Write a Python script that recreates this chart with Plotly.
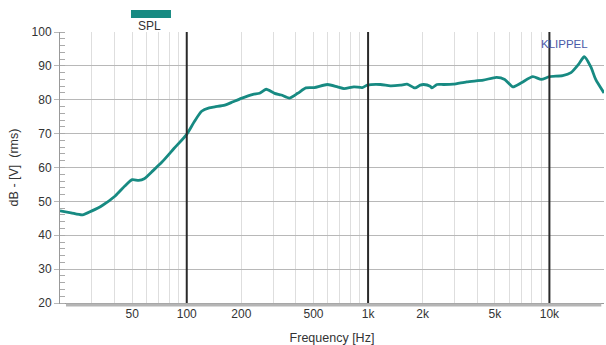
import plotly.graph_objects as go

# ---- data ----
freq_hz = [20, 23, 26.6, 30, 34.2, 40.3, 45.7, 50, 54.3, 58.3, 65, 73, 85, 100,
           110, 120.8, 133, 142.9, 162, 180, 200, 232, 252, 274, 305, 332, 368,
           409, 454, 505, 597, 678, 737, 836, 929, 990, 1170, 1327, 1507, 1640,
           1783, 1820, 1940, 2023, 2200, 2250, 2400, 2600, 2950, 3500, 4320,
           5110, 5670, 6290, 7000, 8100, 9020, 10000, 11830, 13150, 14500,
           15570, 16920, 18000, 20000]
spl_db = [47.2, 46.6, 46.0, 47.2, 48.8, 51.6, 54.6, 56.4, 56.2, 56.7, 59.0,
          61.6, 65.6, 69.8, 73.5, 76.6, 77.6, 77.9, 78.4, 79.4, 80.4, 81.6,
          81.9, 83.1, 81.9, 81.4, 80.5, 81.9, 83.5, 83.6, 84.5, 83.8, 83.3,
          83.8, 83.6, 84.3, 84.5, 84.1, 84.3, 84.6, 83.6, 83.5, 84.3, 84.5,
          84.0, 83.5, 84.5, 84.5, 84.6, 85.3, 85.8, 86.6, 86.0, 83.8, 85.0,
          86.8, 86.0, 86.8, 87.1, 88.0, 90.5, 92.7, 89.7, 86.0, 82.0]

x_tickvals = [50, 100, 200, 500, 1000, 2000, 5000, 10000]
x_ticktext = ["50", "100", "200", "500", "1k", "2k", "5k", "10k"]
decades = [100, 1000, 10000]
series_name = "SPL"

minor_vals = [m * 10 ** e for e in range(1, 5) for m in range(1, 10)
              if 20 <= m * 10 ** e <= 20000]

teal = "#178a82"
font = "Liberation Sans, Arial, sans-serif"

fig = go.Figure()
fig.add_trace(go.Scatter(x=freq_hz, y=spl_db, mode="lines", name=series_name,
                         line=dict(color=teal, width=2.8, shape="spline", smoothing=0.6),
                         showlegend=False))

fig.update_layout(
    width=606, height=345,
    margin=dict(l=60, r=2, t=32, b=42),
    paper_bgcolor="white", plot_bgcolor="white",
    font=dict(family=font, size=12, color="#333"),
)
fig.update_xaxes(
    type="log", range=[1.30103, 4.30103],
    tickmode="array", tickvals=x_tickvals, ticktext=x_ticktext,
    showgrid=False, ticks="", zeroline=False, automargin=False,
    showline=True, linecolor="#999", linewidth=1,
    minor=dict(tickmode="array", tickvals=minor_vals, showgrid=True,
               gridcolor="#dedede", gridwidth=1, ticks=""),
    title=dict(text="Frequency [Hz]", font=dict(size=12.5), standoff=12),
    tickfont=dict(size=12, color="#333"),
)
fig.update_yaxes(
    range=[20, 100], dtick=10, tick0=20, automargin=False,
    showgrid=True, gridcolor="#b8b8b8", gridwidth=1,
    ticks="outside", ticklen=5, tickcolor="#b8b8b8",
    showline=True, linecolor="#999", linewidth=1, zeroline=False,
    minor=dict(dtick=2, ticks="inside", ticklen=5, tickcolor="#aaa", showgrid=False),
    title=dict(text="dB - [V]  (rms)", font=dict(size=12.5), standoff=10),
    tickfont=dict(size=12, color="#333"),
)

for d in decades:
    fig.add_shape(type="line", xref="x", yref="paper", x0=d, x1=d, y0=0, y1=1,
                  line=dict(color="#2a2a2a", width=2))

# bottom shadow band
fig.add_shape(type="rect", xref="paper", yref="paper", x0=0.011, x1=0.995,
              y0=-0.013, y1=-0.002, fillcolor="#b5b5b5", line=dict(width=0))

# legend swatch
fig.add_shape(type="rect", xref="paper", yref="paper", x0=0.1305, x1=0.204,
              y0=1.052, y1=1.081, fillcolor=teal, line=dict(width=0))
fig.add_annotation(text=series_name, xref="paper", yref="paper", x=0.165, y=1.022,
                   xanchor="center", yanchor="middle",
                   showarrow=False, font=dict(size=12, color="#333"))
fig.add_annotation(text="KLIPPEL", xref="paper", yref="paper", x=0.8805, y=0.956,
                   xanchor="left", yanchor="middle",
                   showarrow=False, font=dict(size=11.5, color="#4a5aa8"))

fig.write_html("out.html", post_script="document.body.style.margin='0';",
               config={"displayModeBar": False})
